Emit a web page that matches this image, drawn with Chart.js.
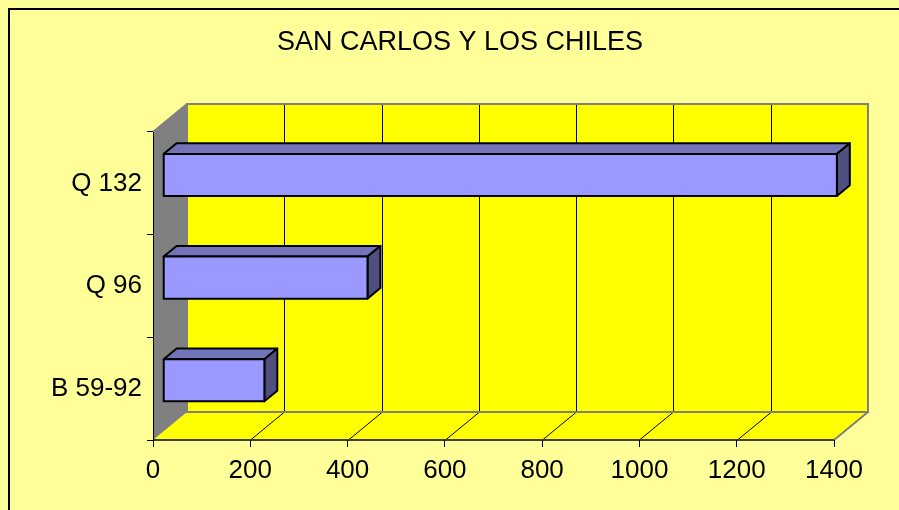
<!DOCTYPE html>
<html>
<head>
<meta charset="utf-8">
<script src="https://cdn.jsdelivr.net/npm/chart.js@4"></script>
<style>
  html, body { margin: 0; padding: 0; background: #FFFF99; }
  canvas { display: block; }
</style>
</head>
<body>
<canvas id="chart" width="899" height="510"></canvas>
<script>
const title = 'SAN CARLOS Y LOS CHILES';
const categories = ['Q 132', 'Q 96', 'B 59-92'];
const values = [1385, 420, 208];
const xTickValues = [0, 200, 400, 600, 800, 1000, 1200, 1400];

// depth of the 3D box, and where the bars sit inside it
const depth = {x: 34, y: -28};
const barFront = 0.3, barBack = 0.68;

const font = 'Liberation Sans, Arial, sans-serif';

const box3d = {
    id: 'box3d',
    beforeDraw(chart) {
        const {ctx, chartArea: a} = chart;
        const xs = chart.scales.x;
        const dx = depth.x, dy = depth.y;
        ctx.save();
        ctx.fillStyle = '#FFFF99';
        ctx.fillRect(0, 0, chart.width, chart.height);
        ctx.strokeStyle = '#000';
        ctx.lineWidth = 2;
        ctx.strokeRect(9, 9, chart.width, chart.height);

        ctx.fillStyle = '#000';
        ctx.font = '27px ' + font;
        ctx.textAlign = 'center';
        ctx.textBaseline = 'middle';
        ctx.fillText(title, 460, 43);

        // back wall
        ctx.fillStyle = '#FFFF00';
        ctx.fillRect(a.left + dx, a.top + dy, a.right - a.left, a.bottom - a.top);
        // floor
        ctx.beginPath();
        ctx.moveTo(a.left, a.bottom);
        ctx.lineTo(a.left + dx, a.bottom + dy);
        ctx.lineTo(a.right + dx, a.bottom + dy);
        ctx.lineTo(a.right, a.bottom);
        ctx.closePath();
        ctx.fill();
        // side wall
        ctx.fillStyle = '#808080';
        ctx.beginPath();
        ctx.moveTo(a.left, a.top);
        ctx.lineTo(a.left + dx, a.top + dy);
        ctx.lineTo(a.left + dx, a.bottom + dy);
        ctx.lineTo(a.left, a.bottom);
        ctx.closePath();
        ctx.fill();

        // grid lines on back wall and floor
        ctx.strokeStyle = '#000';
        ctx.lineWidth = 1;
        xTickValues.slice(1, -1).forEach(v => {
            const px = Math.round(xs.getPixelForValue(v)) + 0.5;
            ctx.beginPath();
            ctx.moveTo(px + dx, a.top + dy);
            ctx.lineTo(px + dx, a.bottom + dy);
            ctx.moveTo(px, a.bottom);
            ctx.lineTo(px + dx, a.bottom + dy);
            ctx.stroke();
        });

        // wall edges
        ctx.strokeStyle = '#808080';
        ctx.lineWidth = 2;
        ctx.strokeRect(a.left + dx, a.top + dy, a.right - a.left, a.bottom - a.top);
        ctx.beginPath();
        ctx.moveTo(a.left, a.top);
        ctx.lineTo(a.left + dx, a.top + dy);
        ctx.moveTo(a.right, a.bottom);
        ctx.lineTo(a.right + dx, a.bottom + dy);
        ctx.stroke();
        ctx.strokeStyle = '#404040';
        ctx.beginPath();
        ctx.moveTo(a.left, a.bottom);
        ctx.lineTo(a.right, a.bottom);
        ctx.stroke();
        ctx.restore();
    },
    afterDatasetsDraw(chart) {
        const {ctx} = chart;
        const fx = depth.x * barFront, fy = depth.y * barFront;
        const bx = depth.x * barBack, by = depth.y * barBack;
        ctx.save();
        ctx.lineWidth = 2;
        ctx.lineJoin = 'round';
        ctx.strokeStyle = '#000';
        chart.getDatasetMeta(0).data.forEach(el => {
            const x0 = el.base, x1 = el.x;
            const yt = el.y - el.height / 2, yb = el.y + el.height / 2;
            const face = (pts, color) => {
                ctx.beginPath();
                ctx.moveTo(pts[0][0], pts[0][1]);
                pts.slice(1).forEach(p => ctx.lineTo(p[0], p[1]));
                ctx.closePath();
                ctx.fillStyle = color;
                ctx.fill();
                ctx.stroke();
            };
            face([[x0 + fx, yt + fy], [x0 + bx, yt + by], [x1 + bx, yt + by], [x1 + fx, yt + fy]], '#7373B9');
            face([[x1 + fx, yt + fy], [x1 + bx, yt + by], [x1 + bx, yb + by], [x1 + fx, yb + fy]], '#4F4F80');
            face([[x0 + fx, yt + fy], [x1 + fx, yt + fy], [x1 + fx, yb + fy], [x0 + fx, yb + fy]], '#9999FF');
        });
        ctx.restore();
    }
};

new Chart(document.getElementById('chart'), {
    type: 'bar',
    data: {
        labels: categories,
        datasets: [{
            data: values,
            backgroundColor: 'rgba(0,0,0,0)',
            borderWidth: 0,
            categoryPercentage: 1,
            barPercentage: 0.41
        }]
    },
    options: {
        indexAxis: 'y',
        responsive: false,
        devicePixelRatio: 1,
        animation: false,
        layout: {
            padding: {top: 132, left: 0, right: 65, bottom: 0}
        },
        plugins: {
            legend: {display: false},
            title: {display: false},
            tooltip: {enabled: false}
        },
        scales: {
            x: {
                min: 0,
                max: 1400,
                afterBuildTicks: scale => {
                    scale.ticks = xTickValues.map(v => ({value: v}));
                },
                afterFit: scale => { scale.height = 70; },
                grid: {display: true, drawOnChartArea: false, drawTicks: true, tickLength: 7, color: '#000', lineWidth: 1},
                border: {display: false},
                ticks: {color: '#000', font: {family: font, size: 26}, padding: 8, maxRotation: 0,
                    callback: v => String(v)}
            },
            y: {
                afterFit: scale => { scale.width = 153; },
                grid: {display: true, drawOnChartArea: false, drawTicks: true, tickLength: 6, color: '#000', lineWidth: 1, offset: true},
                border: {display: true, color: '#000', width: 1},
                ticks: {color: '#000', font: {family: font, size: 26}, padding: 5}
            }
        }
    },
    plugins: [box3d]
});
</script>
</body>
</html>
